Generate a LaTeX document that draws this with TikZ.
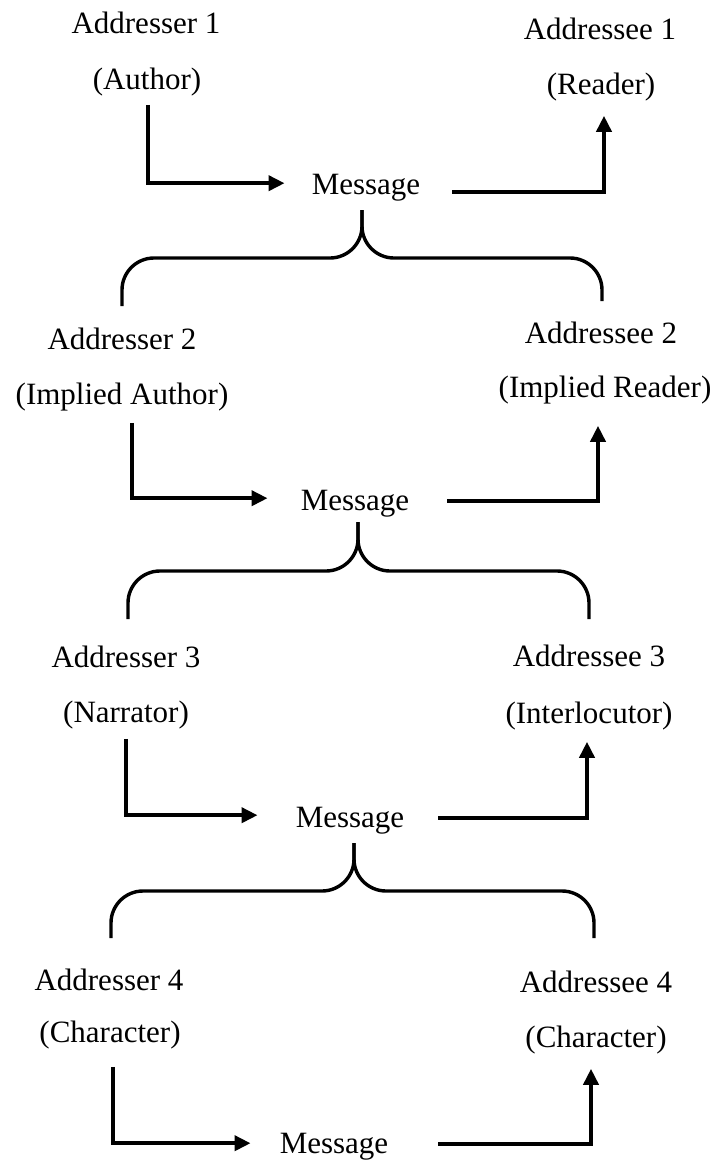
\documentclass[tikz,border=0pt]{standalone}
\usepackage{fontspec}
\setmainfont{Liberation Serif}
\usetikzlibrary{arrows.meta}

\begin{document}
\begin{tikzpicture}[x=1pt,y=-1pt,
    lbl/.style={inner sep=0pt,anchor=base,font=\fontsize{31}{37}\selectfont},
    link/.style={line width=3.8pt},
    flow/.style={link,-{Triangle[length=16pt,width=15pt]}},
    brace/.style={line width=3.4pt,rounded corners=32pt}]
  \useasboundingbox (0,0) rectangle (718,1160);

  % senders, receivers and messages, level by level
  \node[lbl] (ar1)  at (146,33)  {Addresser 1};
  \node[lbl] (ar1r) at (147,89)  {(Author)};
  \node[lbl] (ae1)  at (600,39)  {Addressee 1};
  \node[lbl] (ae1r) at (601,94)  {(Reader)};
  \node[lbl] (m1)   at (366,194) {Message};

  \node[lbl] (ar2)  at (122,349) {Addresser 2};
  \node[lbl] (ar2r) at (122,404) {(Implied Author)};
  \node[lbl] (ae2)  at (601,343) {Addressee 2};
  \node[lbl] (ae2r) at (605,397) {(Implied Reader)};
  \node[lbl] (m2)   at (355,510) {Message};

  \node[lbl] (ar3)  at (126,667) {Addresser 3};
  \node[lbl] (ar3r) at (126,722) {(Narrator)};
  \node[lbl] (ae3)  at (589,666) {Addressee 3};
  \node[lbl] (ae3r) at (589,723) {(Interlocutor)};
  \node[lbl] (m3)   at (350,827) {Message};

  \node[lbl] (ar4)  at (109,990)  {Addresser 4};
  \node[lbl] (ar4r) at (110,1042) {(Character)};
  \node[lbl] (ae4)  at (596,992)  {Addressee 4};
  \node[lbl] (ae4r) at (596,1047) {(Character)};
  \node[lbl] (m4)   at (334,1153) {Message};

  % sender -> message -> receiver
  \draw[flow] ([xshift=1pt,yshift=-9pt]ar1r.south) |- ([xshift=-27pt,yshift=4pt]m1.west);
  \draw[flow] ([xshift=32pt,yshift=-5pt]m1.east) -| ([xshift=3pt,yshift=-15pt]ae1r.south);

  \draw[flow] ([xshift=10pt,yshift=-12pt]ar2r.south) |- ([xshift=-33pt,yshift=5pt]m2.west);
  \draw[flow] ([xshift=38pt,yshift=2pt]m2.east) -| ([xshift=-7pt,yshift=-22pt]ae2r.south);

  \draw[flow] ([yshift=-10pt]ar3r.south) |- ([xshift=-38pt,yshift=5pt]m3.west);
  \draw[flow] ([xshift=34pt,yshift=2pt]m3.east) -| ([xshift=-2pt,yshift=-12pt]ae3r.south);

  \draw[flow] ([xshift=3pt,yshift=-18pt]ar4r.south) |- ([xshift=-29pt,yshift=3pt]m4.west);
  \draw[flow] ([xshift=50pt,yshift=2pt]m4.east) -| ([xshift=-5pt,yshift=-15pt]ae4r.south);

  % each message opens onto the next pair
  \coordinate (t1) at (362,210);
  \coordinate (h1) at (0,258);
  \coordinate (l1) at (122,306);
  \coordinate (r1) at (602,301);
  \draw[brace] (t1) -- (t1 |- h1) -- (l1 |- h1) -- (l1);
  \draw[brace] (t1) -- (t1 |- h1) -- (r1 |- h1) -- (r1);

  \coordinate (t2) at (358,522);
  \coordinate (h2) at (0,571);
  \coordinate (l2) at (128,619);
  \coordinate (r2) at (589,619);
  \draw[brace] (t2) -- (t2 |- h2) -- (l2 |- h2) -- (l2);
  \draw[brace] (t2) -- (t2 |- h2) -- (r2 |- h2) -- (r2);

  \coordinate (t3) at (354,843);
  \coordinate (h3) at (0,891);
  \coordinate (l3) at (111,938);
  \coordinate (r3) at (594,938);
  \draw[brace] (t3) -- (t3 |- h3) -- (l3 |- h3) -- (l3);
  \draw[brace] (t3) -- (t3 |- h3) -- (r3 |- h3) -- (r3);
\end{tikzpicture}
\end{document}
